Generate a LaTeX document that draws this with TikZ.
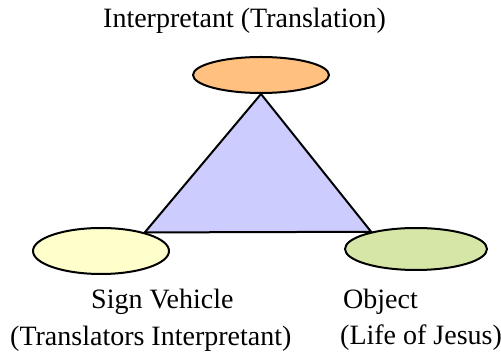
\documentclass[tikz,border=0pt]{standalone}
\usepackage{fontspec}
\setmainfont{Liberation Serif}
\usetikzlibrary{shapes.geometric,backgrounds}
\definecolor{interpcol}{RGB}{255,192,128}
\definecolor{signcol}{RGB}{255,255,204}
\definecolor{objcol}{RGB}{214,230,166}
\definecolor{tricol}{RGB}{204,204,255}

\begin{document}
\begin{tikzpicture}[x=1pt,y=-1pt,font=\fontsize{28}{32}\selectfont,
  blob/.style={ellipse,draw=black,line width=2pt,inner sep=0pt},
  lbl/.style={anchor=base west,inner sep=0pt}]
  \useasboundingbox (0,0) rectangle (501,355);
  % the three corners
  \node[blob,fill=interpcol,minimum width=136pt,minimum height=36pt] (interp) at (261,75) {};
  \node[blob,fill=signcol,minimum width=136pt,minimum height=46pt] (sign) at (101,251) {};
  \node[blob,fill=objcol,minimum width=142pt,minimum height=42pt] (object) at (416,249) {};
  \begin{scope}[on background layer]
    \draw[fill=tricol,line width=2pt,line join=miter] (interp.south) -- (sign.23) -- (object.159) -- cycle;
  \end{scope}
  % labels
  \node[lbl] (interplbl) at (103,28) {Interpretant (Translation)};
  \node[lbl] (signlbl) at (91,309) {Sign Vehicle};
  \node[lbl] (signsub) at (10,346) {(Translators Interpretant)};
  \node[lbl] (objlbl) at (343,309) {Object};
  \node[lbl] (objsub) at (340,345) {(Life of Jesus)};
\end{tikzpicture}
\end{document}
